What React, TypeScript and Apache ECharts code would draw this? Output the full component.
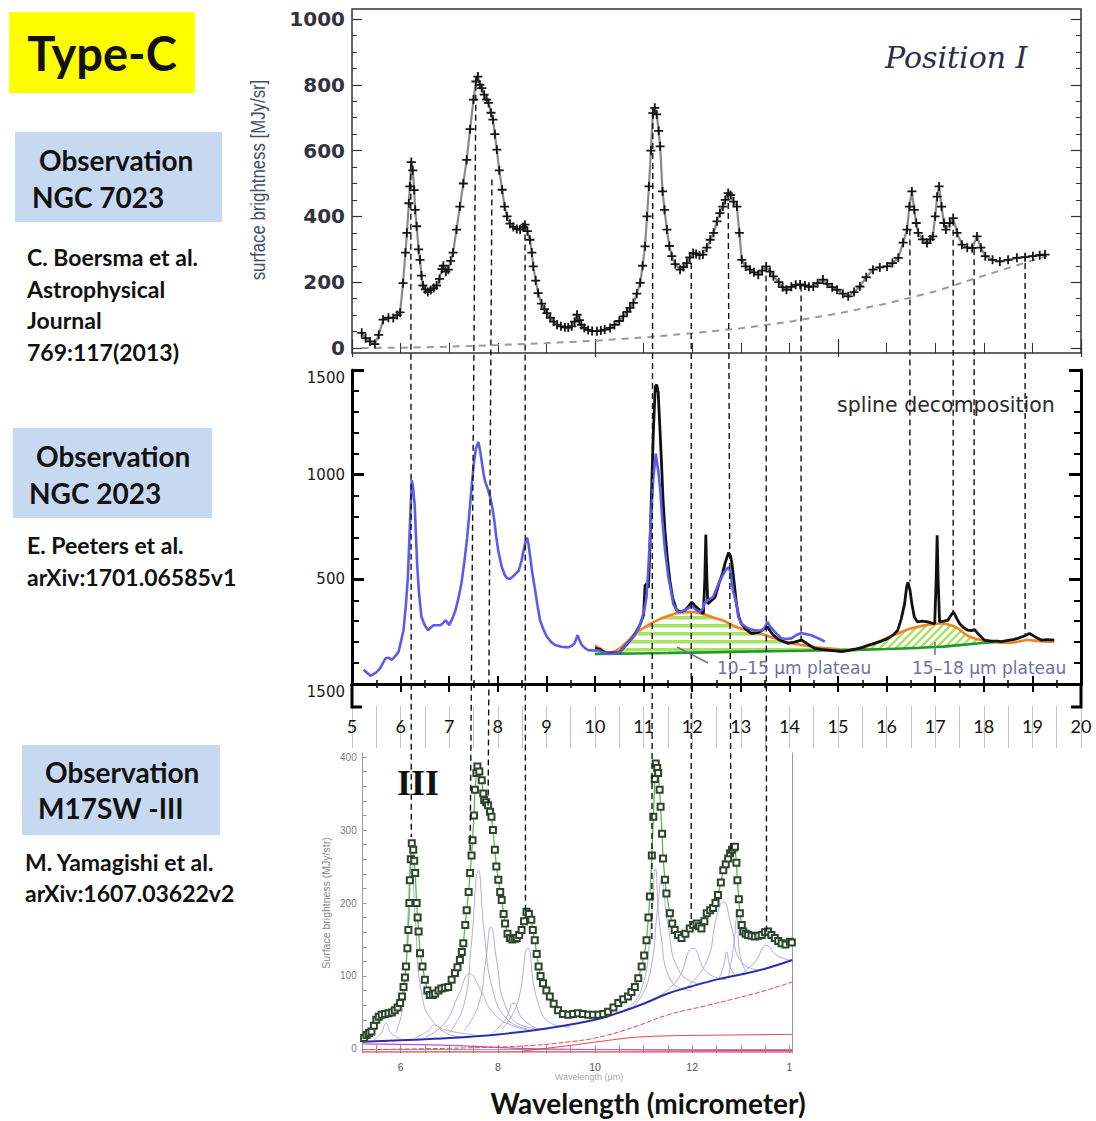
import React, { useEffect, useRef } from 'react';
import * as echarts from 'echarts';

// ---------- DATA ----------
// Top panel: NGC 7023, Position I (Boersma et al.)
const ngc7023Spectrum: number[][] = [
  [5.2,46],[5.28,30],[5.37,20],[5.47,12],[5.55,40],[5.64,86],[5.75,92],[5.85,91],[5.93,100],[5.99,108],[6.05,197],[6.1,290],[6.13,350],[6.17,440],[6.19,491],[6.22,565],[6.25,540],[6.28,480],[6.3,420],[6.33,370],[6.37,300],[6.4,268],[6.43,220],[6.46,190],[6.51,178],[6.56,170],[6.62,176],[6.68,182],[6.74,190],[6.8,210],[6.85,240],[6.88,250],[6.93,232],[6.98,238],[7.03,265],[7.08,290],[7.15,360],[7.22,430],[7.29,500],[7.36,572],[7.43,665],[7.5,755],[7.55,810],[7.59,825],[7.63,800],[7.67,790],[7.72,770],[7.77,755],[7.81,745],[7.86,715],[7.9,694],[7.94,650],[7.98,603],[8.03,540],[8.09,481],[8.14,430],[8.19,400],[8.25,378],[8.32,368],[8.39,362],[8.46,360],[8.52,368],[8.56,375],[8.61,355],[8.66,329],[8.7,290],[8.73,248],[8.78,205],[8.83,167],[8.9,135],[8.96,118],[9.01,106],[9.08,92],[9.15,80],[9.22,71],[9.3,66],[9.38,63],[9.45,62],[9.52,66],[9.58,80],[9.63,101],[9.68,85],[9.72,70],[9.78,61],[9.86,55],[9.94,52],[10.04,51],[10.12,53],[10.2,56],[10.31,61],[10.4,70],[10.5,82],[10.58,96],[10.66,110],[10.72,122],[10.79,137],[10.86,165],[10.93,198],[10.98,250],[11.03,309],[11.07,400],[11.11,491],[11.15,600],[11.19,714],[11.23,730],[11.27,710],[11.31,660],[11.34,613],[11.39,476],[11.43,420],[11.48,360],[11.53,310],[11.58,279],[11.65,255],[11.75,238],[11.82,246],[11.89,258],[11.95,275],[12.02,289],[12.08,286],[12.15,282],[12.22,284],[12.3,305],[12.37,329],[12.44,350],[12.51,385],[12.57,410],[12.63,430],[12.68,450],[12.74,471],[12.79,465],[12.85,445],[12.92,430],[12.97,350],[13.02,268],[13.1,248],[13.19,238],[13.27,230],[13.36,223],[13.44,235],[13.52,248],[13.6,232],[13.67,218],[13.78,200],[13.86,185],[13.94,177],[14.04,186],[14.13,192],[14.22,193],[14.32,190],[14.4,186],[14.49,187],[14.58,197],[14.69,208],[14.78,195],[14.88,185],[14.98,177],[15.1,165],[15.21,157],[15.33,170],[15.45,187],[15.58,215],[15.72,238],[15.86,245],[16.01,248],[16.12,258],[16.24,274],[16.34,320],[16.42,360],[16.47,430],[16.52,476],[16.57,420],[16.61,380],[16.65,350],[16.74,330],[16.83,319],[16.9,330],[16.95,339],[17.0,400],[17.04,460],[17.08,491],[17.13,430],[17.18,380],[17.22,360],[17.3,380],[17.37,395],[17.45,350],[17.55,314],[17.66,305],[17.76,304],[17.86,339],[17.94,305],[18.03,279],[18.18,268],[18.33,263],[18.5,268],[18.68,274],[18.85,276],[19.01,279],[19.15,282],[19.26,284]
];
const ngc7023Continuum: number[][] = [
  [5.2,0],[6,1],[7,4],[8,9],[9,15],[10,22],[11,32],[12,45],[13,60],[14,80],[15,105],[16,135],[17,172],[18,220],[19,266],[19.3,280]
];

// Middle panel: NGC 2023 (Peeters et al.)
const ngc2023Blue: number[][] = [
  [5.24,68],[5.38,39],[5.5,55],[5.58,76],[5.69,123],[5.76,125],[5.82,115],[5.9,135],[5.96,155],[6.06,257],[6.11,380],[6.15,509],[6.19,750],[6.23,975],[6.26,930],[6.29,856],[6.34,572],[6.38,430],[6.43,320],[6.5,280],[6.56,257],[6.62,270],[6.68,281],[6.75,281],[6.82,281],[6.87,290],[6.92,304],[6.96,295],[7.0,281],[7.06,310],[7.13,352],[7.19,410],[7.25,478],[7.31,580],[7.37,699],[7.42,830],[7.47,967],[7.51,1060],[7.55,1125],[7.6,1156],[7.64,1110],[7.67,1061],[7.71,1000],[7.74,967],[7.79,935],[7.84,896],[7.89,840],[7.93,778],[7.97,700],[8.01,636],[8.08,560],[8.15,517],[8.2,505],[8.25,502],[8.34,520],[8.43,541],[8.49,590],[8.53,636],[8.57,680],[8.6,699],[8.63,670],[8.66,620],[8.71,530],[8.77,446],[8.82,370],[8.87,304],[8.94,260],[9.01,226],[9.1,200],[9.18,186],[9.3,178],[9.45,175],[9.52,182],[9.58,194],[9.64,233],[9.68,210],[9.73,186],[9.8,170],[9.86,162],[9.96,160],[10.07,162],[10.17,150],[10.27,144],[10.38,145],[10.48,147],[10.56,165],[10.65,194],[10.74,212],[10.82,233],[10.9,270],[10.96,304],[11.02,360],[11.06,415],[11.1,560],[11.13,699],[11.17,860],[11.2,983],[11.25,1101],[11.3,1020],[11.34,935],[11.38,800],[11.44,640],[11.51,509],[11.57,440],[11.61,383],[11.66,360],[11.71,344],[11.78,345],[11.85,352],[11.92,362],[11.99,375],[12.04,362],[12.09,352],[12.16,344],[12.22,360],[12.26,391],[12.3,395],[12.35,405],[12.43,415],[12.5,455],[12.57,494],[12.63,520],[12.7,549],[12.75,557],[12.79,533],[12.84,446],[12.91,383],[12.95,320],[13.01,289],[13.12,270],[13.22,260],[13.32,255],[13.43,257],[13.49,270],[13.55,297],[13.6,275],[13.67,257],[13.76,235],[13.84,218],[13.94,215],[14.04,218],[14.15,235],[14.25,244],[14.35,238],[14.45,233],[14.6,218],[14.73,202]
];
const ngc2023Black: number[][] = [
  [10.0,172],[10.1,165],[10.2,150],[10.35,148],[10.5,150],[10.65,190],[10.8,230],[10.92,280],[11.0,330],[11.03,470],[11.07,480],[11.1,460],[11.13,650],[11.16,888],[11.2,1200],[11.24,1420],[11.27,1430],[11.3,1393],[11.34,1200],[11.37,1046],[11.4,880],[11.44,730],[11.49,600],[11.54,494],[11.6,410],[11.68,352],[11.76,345],[11.85,352],[11.92,370],[11.99,391],[12.05,375],[12.12,360],[12.18,345],[12.23,336],[12.26,500],[12.28,714],[12.3,520],[12.32,383],[12.38,395],[12.47,415],[12.55,480],[12.62,525],[12.68,580],[12.75,628],[12.79,610],[12.82,572],[12.87,470],[12.91,383],[12.96,320],[13.01,289],[13.1,262],[13.22,241],[13.35,245],[13.48,262],[13.55,273],[13.6,255],[13.67,233],[13.8,210],[13.97,194],[14.1,200],[14.25,210],[14.38,190],[14.52,170],[14.65,165],[14.8,162],[14.95,158],[15.07,155],[15.2,160],[15.34,166],[15.5,175],[15.62,185],[15.75,194],[15.9,205],[16.03,218],[16.14,235],[16.23,257],[16.3,310],[16.37,383],[16.41,460],[16.44,486],[16.48,450],[16.52,383],[16.57,320],[16.63,297],[16.73,300],[16.85,297],[16.95,290],[16.99,289],[17.02,500],[17.04,711],[17.06,500],[17.09,297],[17.18,300],[17.26,304],[17.33,330],[17.38,344],[17.44,315],[17.5,289],[17.58,270],[17.67,257],[17.75,255],[17.81,260],[17.9,235],[18.01,210],[18.15,205],[18.28,205],[18.36,202],[18.5,208],[18.6,212],[18.7,218],[18.82,228],[18.94,241],[19.06,225],[19.18,210],[19.3,212],[19.45,210]
];
const plateau1015: number[][] = [
  [10.0,185],[10.1,170],[10.27,150],[10.4,155],[10.55,178],[10.7,210],[10.82,241],[10.96,262],[11.16,289],[11.33,310],[11.5,325],[11.64,336],[11.8,342],[11.99,344],[12.2,336],[12.47,315],[12.67,300],[12.88,275],[13.05,262],[13.22,257],[13.45,238],[13.7,218],[13.95,200],[14.25,186],[14.5,177],[14.8,170],[15.05,165],[15.34,162]
];
const plateau1518: number[][] = [
  [15.34,162],[15.55,175],[15.75,194],[16.0,220],[16.23,241],[16.45,262],[16.64,273],[16.9,285],[17.12,289],[17.33,281],[17.47,265],[17.6,241],[17.75,222],[17.94,210],[18.2,200],[18.49,197],[18.7,202],[18.9,210],[19.15,205],[19.45,202]
];
const splineBaseline: number[][] = [
  [10.0,144],[10.82,146],[11.5,148],[12.5,152],[13.22,155],[14.0,158],[15.07,162],[16.0,167],[17.12,178],[17.7,190],[18.2,200]
];

// Bottom panel: M17SW position III (Yamagishi et al.)
const m17Spectrum: number[][] = [
  [5.25,15],[5.3,19],[5.35,22],[5.4,24],[5.45,32],[5.5,40],[5.55,44],[5.61,47],[5.68,48],[5.75,49],[5.82,50],[5.88,53],[5.94,57],[5.99,63],[6.03,72],[6.06,85],[6.09,98],[6.11,113],[6.14,138],[6.16,163],[6.18,200],[6.19,231],[6.21,260],[6.23,282],[6.26,273],[6.28,258],[6.3,241],[6.33,200],[6.35,180],[6.37,161],[6.4,131],[6.45,113],[6.5,95],[6.55,80],[6.6,74],[6.66,74],[6.71,76],[6.78,80],[6.84,83],[6.91,84],[6.98,85],[7.05,95],[7.12,104],[7.17,112],[7.22,122],[7.26,133],[7.29,145],[7.33,170],[7.36,190],[7.4,215],[7.43,241],[7.46,265],[7.48,286],[7.51,320],[7.53,355],[7.56,378],[7.58,387],[7.62,380],[7.67,368],[7.7,350],[7.72,341],[7.76,338],[7.8,334],[7.84,325],[7.87,318],[7.9,300],[7.94,273],[7.97,250],[8.01,232],[8.05,215],[8.08,204],[8.12,185],[8.15,172],[8.2,158],[8.25,152],[8.3,150],[8.35,151],[8.39,152],[8.44,156],[8.49,163],[8.54,175],[8.59,188],[8.64,185],[8.69,177],[8.72,163],[8.76,149],[8.8,130],[8.84,113],[8.88,100],[8.93,90],[9.0,80],[9.07,72],[9.15,62],[9.24,53],[9.34,48],[9.45,47],[9.55,48],[9.65,49],[9.75,48],[9.86,47],[9.96,47],[10.07,47],[10.17,48],[10.27,51],[10.38,57],[10.48,63],[10.58,68],[10.68,72],[10.75,78],[10.82,85],[10.89,97],[10.96,113],[11.01,128],[11.06,149],[11.1,180],[11.13,209],[11.17,265],[11.2,318],[11.23,370],[11.25,391],[11.28,385],[11.3,378],[11.33,355],[11.35,332],[11.38,295],[11.4,261],[11.44,232],[11.47,213],[11.54,186],[11.59,172],[11.64,163],[11.71,156],[11.78,152],[11.86,158],[11.95,165],[12.02,170],[12.09,172],[12.14,168],[12.19,165],[12.25,175],[12.3,186],[12.37,190],[12.43,193],[12.48,200],[12.53,211],[12.59,228],[12.64,245],[12.69,253],[12.74,261],[12.78,268],[12.82,273],[12.86,276],[12.88,277],[12.91,255],[12.93,231],[12.96,205],[12.98,186],[13.02,170],[13.05,161],[13.1,158],[13.15,156],[13.22,155],[13.29,154],[13.36,155],[13.43,156],[13.5,160],[13.56,161],[13.63,156],[13.7,152],[13.77,148],[13.84,145],[13.92,143],[14.01,147],[14.05,146]
];
const m17Continuum: number[][] = [
  [5.22,10],[6,12],[7,15],[8,20],[9,28],[10,40],[10.5,50],[11,62],[11.5,76],[12,86],[12.5,95],[13,102],[13.5,110],[14.06,122]
];
const m17RedRising: number[][] = [
  [5.22,-1],[7,1],[8.5,4],[9.5,10],[10.14,17],[10.8,30],[11.51,47],[12.2,58],[12.88,69],[13.5,80],[14.06,92]
];
const m17RedFlat: number[][] = [[8.5,-3],[9.5,5],[10.3,12],[10.82,16],[11.5,18],[12.5,19],[14.06,20]];
const m17RedLow: number[][] = [[5.22,-4],[14.06,-4]];
const m17PinkLow: number[][] = [[5.22,7],[7,5],[9,0],[14.06,-2]];
// Lorentzian-like components
const comp57 = [[5.45,12],[5.6,22],[5.7,35],[5.8,22],[6.0,14]];
const comp62 = [[5.9,22],[6.05,60],[6.15,180],[6.22,275],[6.3,180],[6.45,70],[6.7,35],[7.0,25],[7.5,20]];
const comp67 = [[6.3,15],[6.55,24],[6.7,33],[6.85,25],[7.1,18],[7.4,16]];
const comp74 = [[6.5,16],[6.9,35],[7.2,75],[7.42,103],[7.65,80],[7.9,50],[8.3,32],[8.8,25]];
const comp76 = [[7.0,22],[7.3,60],[7.45,140],[7.6,245],[7.72,160],[7.9,80],[8.2,40],[8.6,28]];
const comp785 = [[7.3,25],[7.6,60],[7.75,120],[7.86,167],[7.98,120],[8.15,60],[8.5,32],[9,27]];
const comp833 = [[7.9,22],[8.15,40],[8.33,63],[8.5,42],[8.8,28]];
const comp86 = [[8.1,28],[8.4,62],[8.62,138],[8.8,70],[9.1,35],[9.5,30]];
const comp112 = [[10.6,52],[10.95,80],[11.15,170],[11.24,247],[11.35,160],[11.6,90],[12.0,80]];
const comp114 = [[10.8,58],[11.1,95],[11.3,200],[11.37,234],[11.5,170],[11.75,105],[12.2,88]];
const comp120 = [[11.3,72],[11.7,95],[12.02,138],[12.3,105],[12.7,95]];
const comp126 = [[11.9,85],[12.3,120],[12.5,180],[12.64,202],[12.8,170],[13.0,120],[13.4,108]];
const comp127 = [[12.55,96],[12.65,115],[12.71,133],[12.78,112],[12.9,100]];
const comp129 = [[12.75,100],[12.85,140],[12.92,181],[12.98,130],[13.1,106]];
const comp135 = [[13.0,102],[13.3,120],[13.53,142],[13.75,128],[14.06,121]];
const m17Components = [comp57, comp62, comp67, comp74, comp76, comp785, comp833, comp86, comp112, comp114, comp120, comp126, comp127, comp129, comp135];

// Dashed guide lines: [λ top, value in top panel, end panel, λ end, value at end]
const guideLines: [number, number, string, number, number][] = [
  [6.21, 560, 'm17', 6.22, 290],
  [7.55, 800, 'm17', 7.43, 270],
  [7.88, 512, 'm17', 7.8, 330],
  [8.56, 375, 'm17', 8.57, 190],
  [11.19, 714, 'm17', 11.17, 150],
  [11.98, 258, 'm17', 11.98, 170],
  [12.74, 471, 'm17', 12.8, 265],
  [13.52, 220, 'm17', 13.53, 160],
  [14.24, 190, 'ngc2023', 14.24, 210],
  [16.48, 360, 'ngc2023', 16.48, 490],
  [17.37, 390, 'ngc2023', 17.37, 340],
  [17.8, 300, 'ngc2023', 17.8, 260],
  [18.85, 258, 'ngc2023', 18.85, 240],
];

// Tick / label values
const m17XLabels = [6, 8, 10, 12, 14];
const m17XTicks = [5.5, 6, 6.5, 7, 7.5, 8, 8.5, 9, 9.5, 10, 10.5, 11, 11.5, 12, 12.5, 13, 13.5, 14];
const m17YLabels = [0, 100, 200, 300, 400];
const m17YTicks = [0, 20, 40, 60, 80, 100, 120, 140, 160, 180, 200, 220, 240, 260, 280, 300, 320, 340, 360, 380, 400];

const W = 1096;
const H = 1121;

const txt = (text: string, x: number, y: number, font: string, fill: string, align = 'left', extra: any = {}) => ({
  type: 'text', x, y, z: 60, ...extra,
  style: { text, font, fill, align, verticalAlign: 'middle', textAlign: align, textVerticalAlign: 'middle' },
});

export default function App() {
  const ref = useRef<HTMLDivElement>(null);
  useEffect(() => {
    document.body.style.margin = '0';
    const chart = echarts.init(ref.current!, null, { renderer: 'svg' });

    const makePattern = (kind: string) => {
      const c = document.createElement('canvas');
      c.width = 8; c.height = 8;
      const ctx = c.getContext('2d')!;
      ctx.fillStyle = '#a6e35f';
      ctx.strokeStyle = '#a6e35f';
      if (kind === 'h') {
        ctx.fillRect(0, 0, 8, 3.5);
      } else {
        ctx.lineWidth = 2.4;
        ctx.beginPath();
        ctx.moveTo(-1, 9); ctx.lineTo(9, -1);
        ctx.moveTo(-3, 3); ctx.lineTo(3, -3);
        ctx.moveTo(5, 11); ctx.lineTo(11, 5);
        ctx.stroke();
      }
      return { image: c, repeat: 'repeat', imageWidth: 8, imageHeight: 8 };
    };

    const baselineFill = splineBaseline.concat(plateau1518.filter((p) => p[0] > 18.2));

    const plusSymbol = 'path://M4,0H6V4H10V6H6V10H4V6H0V4H4Z';

    const topX = (position: string, offset: number) => ({
      type: 'value', gridIndex: 0, position, offset, min: 5, max: 20, interval: 5,
      axisLine: { show: false },
      axisTick: { show: true, inside: true, length: 9, lineStyle: { color: '#333', width: 1.2 } },
      minorTick: { show: true, splitNumber: 5, length: 5, lineStyle: { color: '#333', width: 1 } },
      axisLabel: { show: false }, splitLine: { show: false },
    });
    const topY = (position: string, labels: boolean) => ({
      type: 'value', gridIndex: 0, position, min: 0, max: 1000, interval: 200,
      axisLine: { show: false },
      axisTick: { show: true, inside: true, length: 10, lineStyle: { color: '#333', width: 1.2 } },
      minorTick: { show: true, splitNumber: 4, length: 5, lineStyle: { color: '#333', width: 1 } },
      axisLabel: {
        show: labels, margin: 7, fontFamily: 'DejaVu Sans', fontWeight: 'bold', fontSize: 20, color: '#35323f',
        formatter: (v: number) => String(v),
      },
      splitLine: { show: false },
    });
    const midX = (position: string) => ({
      type: 'value', gridIndex: 1, position, min: 5, max: 20, interval: 1, z: 10,
      axisLine: { show: true, lineStyle: { color: '#000', width: 3 } },
      axisTick: { show: true, inside: true, length: 8, lineStyle: { color: '#000', width: 2 } },
      minorTick: { show: true, splitNumber: 2, length: 4, lineStyle: { color: '#000', width: 1.5 } },
      axisLabel: { show: false }, splitLine: { show: false },
    });
    const midY = (position: string, labels: boolean) => ({
      type: 'value', gridIndex: 1, position, min: 0, max: 1500, interval: 500, z: 10,
      axisLine: { show: true, lineStyle: { color: '#000', width: 3 } },
      axisTick: { show: true, inside: true, length: 12, lineStyle: { color: '#000', width: 3 } },
      minorTick: { show: true, splitNumber: 5, length: 7, lineStyle: { color: '#000', width: 2 } },
      axisLabel: {
        show: labels, margin: 7, fontFamily: 'DejaVu Sans', fontSize: 15, color: '#1a1a1a',
        verticalAlignMaxLabel: 'top',
        formatter: (v: number) => (v === 0 ? '' : String(v)),
      },
      splitLine: { show: false },
    });

    const option: any = {
      animation: false,
      backgroundColor: '#ffffff',
      grid: [
        { left: 352, top: 19, width: 729, height: 329 },
        { left: 352, top: 370, width: 729, height: 314 },
        { left: 352, top: 706, width: 729, height: 42 },
        { left: 362.7, top: 753, width: 429.6, height: 300 },
      ],
      xAxis: [
        topX('bottom', 5),
        topX('top', 10),
        midX('bottom'),
        midX('top'),
        {
          type: 'value', gridIndex: 2, position: 'bottom', min: 5, max: 20, interval: 0.5,
          axisLine: { show: false }, axisTick: { show: false },
          splitLine: { show: true, lineStyle: { color: '#c4c4c4', width: 1 } },
          axisLabel: {
            show: true, margin: -31, fontFamily: 'Lato', fontSize: 18, color: '#111',
            formatter: (v: number) => (Number.isInteger(v) ? String(v) : ''),
          },
        },
        {
          type: 'value', gridIndex: 3, position: 'bottom', min: 5.22, max: 14.06,
          axisLine: { show: true, lineStyle: { color: '#9a9a9a', width: 1 } },
          axisTick: { show: true, inside: true, length: 4, customValues: m17XTicks, lineStyle: { color: '#9a9a9a' } },
          axisLabel: {
            show: true, customValues: m17XLabels, margin: 8, fontFamily: 'Liberation Sans', fontSize: 10.5, color: '#555',
            formatter: (v: number) => (v === 14 ? '1' : String(v)),
          },
          splitLine: { show: false },
        },
        {
          type: 'value', gridIndex: 3, position: 'top', min: 5.22, max: 14.06,
          axisLine: { show: true, lineStyle: { color: '#9a9a9a', width: 1 } },
          axisTick: { show: true, inside: true, length: 4, customValues: m17XTicks, lineStyle: { color: '#9a9a9a' } },
          axisLabel: { show: false }, splitLine: { show: false },
        },
      ],
      yAxis: [
        topY('left', true),
        topY('right', false),
        midY('left', true),
        midY('right', false),
        { type: 'value', gridIndex: 2, min: 0, max: 1, show: false },
        {
          type: 'value', gridIndex: 3, position: 'left', min: -5.5, max: 405.5,
          axisLine: { show: true, lineStyle: { color: '#9a9a9a', width: 1 } },
          axisTick: { show: true, inside: true, length: 4, customValues: m17YTicks, lineStyle: { color: '#9a9a9a' } },
          axisLabel: { show: true, customValues: m17YLabels, margin: 6, fontFamily: 'Liberation Sans', fontSize: 10, color: '#777' },
          splitLine: { show: false },
        },
        {
          type: 'value', gridIndex: 3, position: 'right', min: -5.5, max: 405.5,
          axisLine: { show: true, lineStyle: { color: '#9a9a9a', width: 1 } },
          axisTick: { show: false }, axisLabel: { show: false }, splitLine: { show: false },
        },
      ],
      series: [
        // top panel
        {
          type: 'line', xAxisIndex: 0, yAxisIndex: 0, data: ngc7023Continuum, symbol: 'none',
          lineStyle: { color: '#9a9a9a', width: 2, type: [7, 6] }, z: 2,
        },
        {
          type: 'line', xAxisIndex: 0, yAxisIndex: 0, data: ngc7023Spectrum,
          symbol: plusSymbol, symbolSize: 9, itemStyle: { color: '#151515' },
          lineStyle: { color: '#8a8a8a', width: 2.2 }, z: 3,
        },
        // middle panel fills
        {
          type: 'line', xAxisIndex: 2, yAxisIndex: 2, data: plateau1015, symbol: 'none',
          lineStyle: { width: 0 }, areaStyle: { color: makePattern('h'), opacity: 1 }, z: 1,
        },
        {
          type: 'line', xAxisIndex: 2, yAxisIndex: 2, data: plateau1518, symbol: 'none',
          lineStyle: { width: 0 }, areaStyle: { color: makePattern('d'), opacity: 1 }, z: 1,
        },
        {
          type: 'line', xAxisIndex: 2, yAxisIndex: 2, data: baselineFill, symbol: 'none',
          lineStyle: { width: 0 }, areaStyle: { color: '#ffffff', opacity: 1 }, z: 2,
        },
        // middle panel lines
        {
          type: 'line', xAxisIndex: 2, yAxisIndex: 2, data: plateau1015.concat(plateau1518.slice(1)), symbol: 'none',
          smooth: 0.3, lineStyle: { color: '#f5821f', width: 2.6 }, z: 3,
        },
        {
          type: 'line', xAxisIndex: 2, yAxisIndex: 2, data: splineBaseline, symbol: 'none',
          smooth: 0.3, lineStyle: { color: '#1f9a2a', width: 2.6 }, z: 3,
        },
        {
          type: 'line', xAxisIndex: 2, yAxisIndex: 2, data: ngc2023Black, symbol: 'none',
          lineStyle: { color: '#111', width: 2.8 }, z: 4,
        },
        {
          type: 'line', xAxisIndex: 2, yAxisIndex: 2, data: ngc2023Blue, symbol: 'none',
          lineStyle: { color: '#5b5bef', width: 2.6 }, z: 5,
        },
        // bottom panel
        ...m17Components.map((c) => ({
          type: 'line', xAxisIndex: 5, yAxisIndex: 5, data: c, symbol: 'none', smooth: 0.5,
          lineStyle: { color: '#a7a4da', width: 0.9 }, z: 2,
        })),
        {
          type: 'line', xAxisIndex: 5, yAxisIndex: 5, data: m17RedLow, symbol: 'none',
          lineStyle: { color: '#e0474f', width: 1.2 }, z: 2,
        },
        {
          type: 'line', xAxisIndex: 5, yAxisIndex: 5, data: m17PinkLow, symbol: 'none', smooth: 0.4,
          lineStyle: { color: '#d548c8', width: 1.2 }, z: 2,
        },
        {
          type: 'line', xAxisIndex: 5, yAxisIndex: 5, data: m17RedFlat, symbol: 'none', smooth: 0.4,
          lineStyle: { color: '#e0474f', width: 1 }, z: 2,
        },
        {
          type: 'line', xAxisIndex: 5, yAxisIndex: 5, data: m17RedRising, symbol: 'none', smooth: 0.4,
          lineStyle: { color: '#e0474f', width: 1, type: [5, 2] }, z: 2,
        },
        {
          type: 'line', xAxisIndex: 5, yAxisIndex: 5, data: m17Continuum, symbol: 'none', smooth: 0.4,
          lineStyle: { color: '#2c2cb4', width: 2 }, z: 3,
        },
        {
          type: 'line', xAxisIndex: 5, yAxisIndex: 5, data: m17Spectrum,
          symbol: 'emptyRect', symbolSize: 6, itemStyle: { color: '#2c452c', borderWidth: 1 },
          lineStyle: { color: '#57bd48', width: 1.3 }, z: 4,
        },
      ],
    };

    chart.setOption(option);

    // guide lines through library scales
    const guideEls: any[] = guideLines.map(([lt, vt, panel, lb, vb], i) => {
      const p1 = chart.convertToPixel({ xAxisIndex: 0, yAxisIndex: 0 }, [lt, vt]) as number[];
      const p2 = panel === 'm17'
        ? (chart.convertToPixel({ xAxisIndex: 5, yAxisIndex: 5 }, [lb, vb]) as number[])
        : (chart.convertToPixel({ xAxisIndex: 2, yAxisIndex: 2 }, [lb, vb]) as number[]);
      return {
        type: 'line', id: 'guide' + i, z: 50,
        shape: { x1: p1[0], y1: p1[1], x2: p2[0], y2: p2[1] },
        style: { stroke: '#111', lineWidth: 1.4, lineDash: [6, 4] },
      };
    });

    const graphics: any[] = [
      // left-side labels
      { type: 'rect', shape: { x: 9, y: 12, width: 186, height: 81 }, style: { fill: '#ffff00' }, z: 50 },
      txt('Type-C', 102, 53, 'bold 47px Lato', '#111', 'center'),
      { type: 'rect', shape: { x: 15, y: 132, width: 207, height: 90 }, style: { fill: '#c6d9f1' }, z: 50 },
      txt('Observation', 39, 160, 'bold 28px Lato', '#111'),
      txt('NGC 7023', 32, 197, 'bold 28px Lato', '#111'),
      txt('C. Boersma et al.', 27, 257, 'bold 23px Lato', '#111'),
      txt('Astrophysical', 27, 289, 'bold 23px Lato', '#111'),
      txt('Journal', 27, 320, 'bold 23px Lato', '#111'),
      txt('769:117(2013)', 27, 352, 'bold 23px Lato', '#111'),
      { type: 'rect', shape: { x: 13, y: 428, width: 199, height: 90 }, style: { fill: '#c6d9f1' }, z: 50 },
      txt('Observation', 36, 456, 'bold 28px Lato', '#111'),
      txt('NGC 2023', 29, 493, 'bold 28px Lato', '#111'),
      txt('E. Peeters et al.', 27, 545, 'bold 23px Lato', '#111'),
      txt('arXiv:1701.06585v1', 27, 577, 'bold 23px Lato', '#111'),
      { type: 'rect', shape: { x: 22, y: 745, width: 198, height: 90 }, style: { fill: '#c6d9f1' }, z: 50 },
      txt('Observation', 45, 772, 'bold 28px Lato', '#111'),
      txt('M17SW -III', 38, 808, 'bold 28px Lato', '#111'),
      txt('M. Yamagishi et al.', 25, 862, 'bold 23px Lato', '#111'),
      txt('arXiv:1607.03622v2', 25, 893, 'bold 23px Lato', '#111'),
      txt('Wavelength (micrometer)', 648, 1103, 'bold 28px Lato', '#111', 'center'),
      // top panel frame and texts
      { type: 'rect', shape: { x: 352, y: 9, width: 729, height: 344 }, style: { fill: 'none', stroke: '#333', lineWidth: 1.5 }, z: 40 },
      txt('Position I', 885, 57, 'italic 30px "DejaVu Serif"', '#2b2d4c'),
      txt('surface brightness [MJy/sr]', 258, 180, '21px "Liberation Sans"', '#3f4e6e', 'center', { rotation: Math.PI / 2, scaleX: 0.8 }),
      // middle panel texts
      txt('spline decomposition', 837, 405, '20.5px "DejaVu Sans"', '#2a2a2a'),
      txt('10–15 μm plateau', 717, 668, '17px "DejaVu Sans"', '#6f6fa6'),
      txt('15–18 μm plateau', 912, 668, '17px "DejaVu Sans"', '#6f6fa6'),
      { type: 'line', z: 60, shape: { x1: 677, y1: 647, x2: 708, y2: 663 }, style: { stroke: '#6f6fa6', lineWidth: 1.5 } },
      { type: 'line', z: 60, shape: { x1: 935, y1: 642, x2: 935, y2: 655 }, style: { stroke: '#6f6fa6', lineWidth: 1.5 } },
      txt('1500', 345, 692, '15px "DejaVu Sans"', '#1a1a1a', 'right'),
      { type: 'polyline', z: 60, shape: { points: [[362, 707], [352, 707], [352, 684]] }, style: { fill: 'none', stroke: '#000', lineWidth: 3 } },
      { type: 'polyline', z: 60, shape: { points: [[1071, 707], [1081, 707], [1081, 684]] }, style: { fill: 'none', stroke: '#000', lineWidth: 3 } },
      // bottom panel texts
      txt('III', 397, 783, 'bold 36px "Liberation Serif"', '#111'),
      txt('Surface brightness (MJy/str)', 326, 903, '10.5px "Liberation Sans"', '#888', 'center', { rotation: Math.PI / 2 }),
      txt('Wavelength (μm)', 589, 1077, '9px "Liberation Sans"', '#aaa', 'center'),
      ...guideEls,
    ];

    chart.setOption({ graphic: graphics });

    return () => chart.dispose();
  }, []);
  return <div ref={ref} style={{ width: W, height: H }} />;
}
